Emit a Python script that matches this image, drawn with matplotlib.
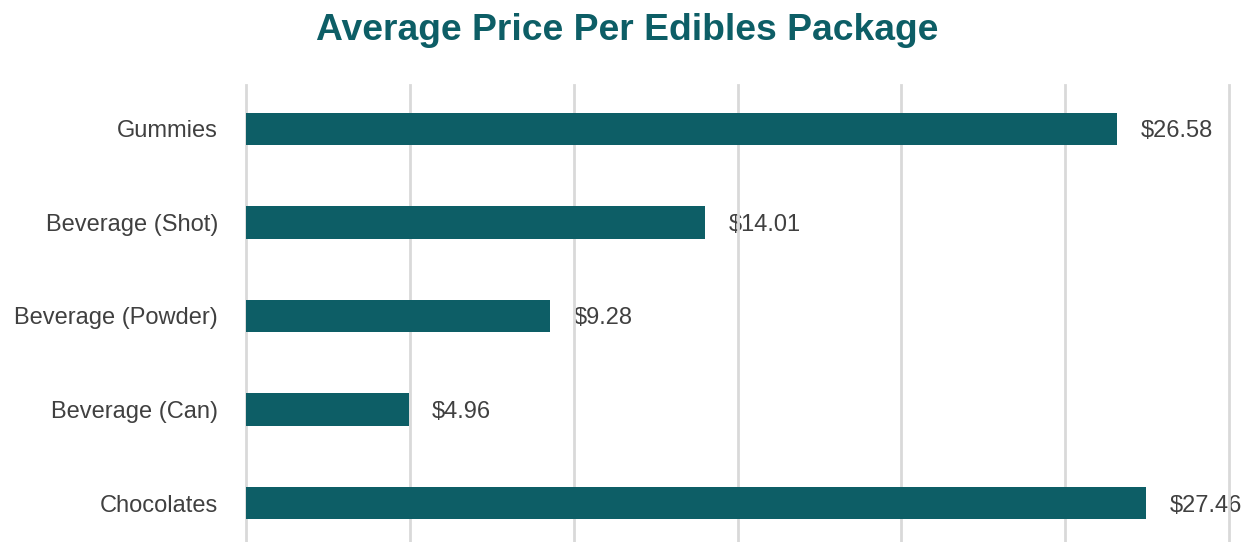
import matplotlib.pyplot as plt

categories = ["Chocolates", "Beverage (Can)", "Beverage (Powder)", "Beverage (Shot)", "Gummies"]
prices = [27.46, 4.96, 9.28, 14.01, 26.58]
value_labels = ["$27.46", "$4.96", "$9.28", "$14.01", "$26.58"]

teal = "#0d5e66"
text_grey = "#404040"

plt.rcParams['font.family'] = ['Liberation Sans', 'DejaVu Sans']

fig = plt.figure(figsize=(12.52, 5.42), dpi=100)
ax = fig.add_axes([246 / 1252, 0, (1229 - 246) / 1252, (542 - 85) / 542])

ypos = range(len(categories))
ax.barh(ypos, prices, height=0.345, color=teal, zorder=3)
for y, v, lab in zip(ypos, prices, value_labels):
    ax.text(v + 0.72, y, lab, va="center_baseline", ha="left", fontsize=17,
            color=text_grey, clip_on=False, zorder=1)

ax.set_xlim(0, 30)
ax.set_ylim(-0.417, 4.47)
ax.set_xticks([0, 5, 10, 15, 20, 25, 30])
ax.set_xticklabels([])
ax.set_yticks(list(ypos))
ax.set_yticklabels(categories, fontsize=17, color=text_grey, va="center_baseline")
ax.tick_params(axis="both", length=0)
ax.tick_params(axis="y", pad=20)
ax.grid(axis="x", color="#d9d9d9", linewidth=2)
for gl in ax.get_xgridlines():
    gl.set_clip_on(False)
    gl.set_zorder(2)
for s in ax.spines.values():
    s.set_visible(False)

fig.text(627 / 1252, 1 - 31 / 542, "Average Price Per Edibles Package",
         ha="center", va="center", fontsize=26.8, fontweight="bold", color=teal)

fig.savefig("out.png", dpi=100)
